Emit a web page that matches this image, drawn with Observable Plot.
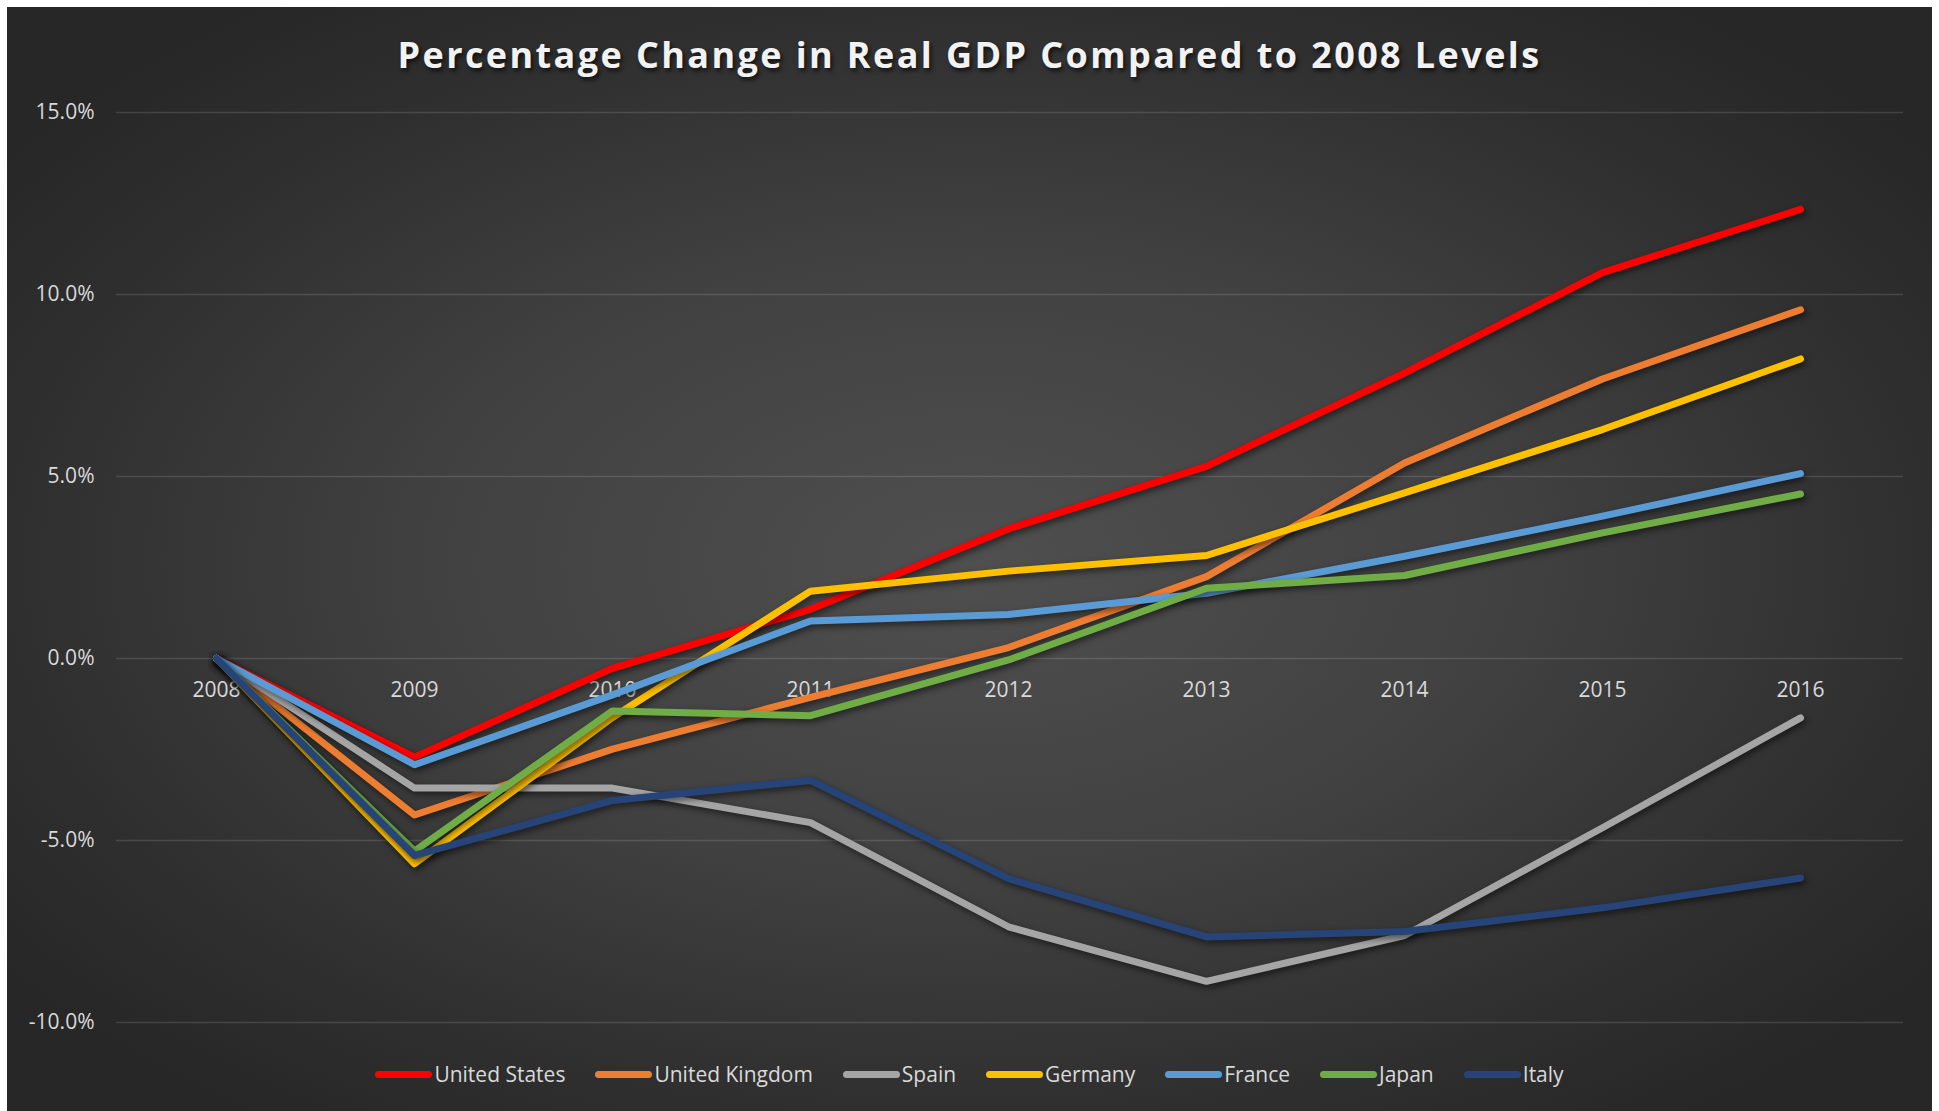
<!DOCTYPE html>
<html>
<head>
<meta charset="utf-8">
<script src="https://cdn.jsdelivr.net/npm/d3@7"></script>
<script src="https://cdn.jsdelivr.net/npm/@observablehq/plot@0.6"></script>
<style>
  html, body { margin: 0; padding: 0; background: #ffffff; width: 1939px; height: 1111px; overflow: hidden; }
  #panel {
    position: absolute; left: 7px; top: 7px; width: 1925px; height: 1110px; overflow: hidden;
    background: radial-gradient(ellipse 62% 62% at 50% 50%, #4f4f4f 0%, #414141 45%, #2f2f2f 80%, #272727 100%);
    font-family: "Open Sans", sans-serif;
  }
  #title {
    position: absolute; left: 0; top: 23px; width: 100%; line-height: 50px; text-align: center;
    font-size: 36px; font-weight: 700; letter-spacing: 2.4px; color: #f2f2f2;
    text-shadow: 2px 3px 4px rgba(0,0,0,0.65);
  }
  #chart { position: absolute; left: 0; top: 83px; }
  #chart svg g[aria-label="line"] path { filter: drop-shadow(2px 3px 3px rgba(0,0,0,0.55)); }
  #legend {
    position: absolute; left: 0; top: 1050px; width: 100%; height: 34px;
    display: flex; justify-content: center; align-items: center; gap: 30px;
    font-size: 21px; color: #d9d9d9;
  }
  .item { display: flex; align-items: center; gap: 2px; }
  .sw { display: inline-block; width: 57px; height: 7px; border-radius: 4px; }
</style>
</head>
<body>
<div id="panel">
  <div id="title">Percentage Change in Real GDP Compared to 2008 Levels</div>
  <div id="chart"></div>
  <div id="legend"></div>
</div>
<script>
const years = ["2008", "2009", "2010", "2011", "2012", "2013", "2014", "2015", "2016"];
const countries = ["United States", "United Kingdom", "Spain", "Germany", "France", "Japan", "Italy"];
const colors = ["#ff0000", "#ed7d31", "#a5a5a5", "#ffc000", "#5b9bd5", "#70ad47", "#264478"];

// Percentage change in real GDP vs 2008 (%)
const unitedStates  = [0, -2.71, -0.27,  1.35,  3.56,  5.28,  7.84, 10.60, 12.34];
const unitedKingdom = [0, -4.30, -2.49, -1.07,  0.30,  2.25,  5.37,  7.68,  9.58];
const spain         = [0, -3.56, -3.56, -4.51, -7.37, -8.87, -7.61, -4.65, -1.63];
const germany       = [0, -5.64, -1.62,  1.85,  2.40,  2.83,  4.55,  6.29,  8.23];
const france        = [0, -2.92, -1.00,  1.03,  1.21,  1.79,  2.81,  3.91,  5.08];
const japan         = [0, -5.29, -1.44, -1.57, -0.04,  1.93,  2.28,  3.45,  4.52];
const italy         = [0, -5.41, -3.90, -3.35, -6.05, -7.65, -7.50, -6.85, -6.03];

const yTicks = [-10, -5, 0, 5, 10, 15];

const series = [unitedStates, unitedKingdom, spain, germany, france, japan, italy];
const data = [];
countries.forEach((c, i) => {
  series[i].forEach((v, j) => data.push({country: c, year: years[j], value: v}));
});

const fmt = v => (v < 0 ? "-" : "") + Math.abs(v).toFixed(1) + "%";

const chart = Plot.plot({
  width: 1925,
  height: 950,
  marginTop: 22,
  marginBottom: 18,
  marginLeft: 109,
  marginRight: 29,
  style: {background: "transparent", color: "#d9d9d9", fontFamily: "Open Sans, sans-serif", fontSize: "21px", overflow: "visible"},
  x: {type: "point", domain: years, range: [206.5, 1796], padding: 0, axis: null},
  y: {domain: [-10, 15], ticks: yTicks, tickFormat: fmt, label: null, axis: null},
  color: {domain: countries, range: colors},
  marks: [
    Plot.ruleY(yTicks, {stroke: "#ffffff", strokeOpacity: 0.13, strokeWidth: 1.5}),
    Plot.axisY({ticks: yTicks, tickSize: 0, tickPadding: 22, tickFormat: fmt, label: null, fontSize: 21, fill: "#d9d9d9"}),
    Plot.text(years, {x: d => d, y: () => 0, dy: 32, text: d => d, fill: "#d9d9d9", fontSize: 21}),
    Plot.line(data, {x: "year", y: "value", z: "country", stroke: "country", strokeWidth: 7, strokeLinecap: "round", strokeLinejoin: "round"})
  ]
});
document.getElementById("chart").appendChild(chart);

const legend = document.getElementById("legend");
countries.forEach((c, i) => {
  const item = document.createElement("div");
  item.className = "item";
  const sw = document.createElement("span");
  sw.className = "sw";
  sw.style.background = colors[i];
  const label = document.createElement("span");
  label.textContent = c;
  item.appendChild(sw);
  item.appendChild(label);
  legend.appendChild(item);
});
</script>
</body>
</html>
